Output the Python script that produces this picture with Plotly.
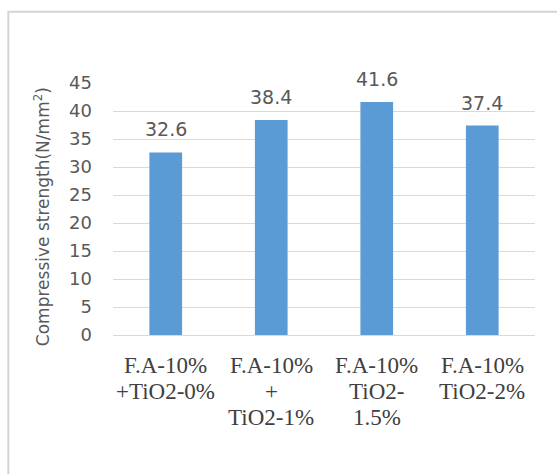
import plotly.graph_objects as go

# Compressive strength of fly-ash mixes with varying TiO2 content
categories = ["F.A-10%<br>+TiO2-0%", "F.A-10%<br>+<br>TiO2-1%",
              "F.A-10%<br>TiO2-<br>1.5%", "F.A-10%<br>TiO2-2%"]
strength = [32.6, 38.4, 41.6, 37.4]
y_ticks = [0, 5, 10, 15, 20, 25, 30, 35, 40, 45]
y_title = "Compressive strength(N/mm<sup>2</sup>)"

BAR = "#5B9BD5"
GRID = "#D9D9D9"
TICK_GRAY = "#595959"
LABEL_GRAY = "#404040"

fig = go.Figure()
fig.add_trace(go.Bar(
    x=list(range(len(categories))),
    y=strength,
    marker=dict(color=BAR, line=dict(width=0)),
    width=0.31,
    hoverinfo="skip",
))

# value labels above each bar
for i, v in enumerate(strength):
    fig.add_annotation(
        x=i, y=v, xref="x", yref="y", text=f"{v:.1f}",
        showarrow=False, yanchor="bottom", yshift=10,
        font=dict(family="DejaVu Sans", size=19, color=TICK_GRAY),
    )

# multi-line category labels under the axis
line_gap = 26
for i, cat in enumerate(categories):
    for j, line in enumerate(cat.split("<br>")):
        fig.add_annotation(
            x=i, y=0, xref="x", yref="y", text=line,
            showarrow=False, yanchor="middle",
            yshift=-(30 + j * line_gap),
            font=dict(family="Liberation Serif", size=23, color=LABEL_GRAY),
        )

# rotated y-axis title
fig.add_annotation(
    x=-0.168, y=0.468, xref="paper", yref="paper", text=y_title,
    showarrow=False, textangle=-90, xanchor="center", yanchor="middle",
    font=dict(family="DejaVu Sans", size=17, color=TICK_GRAY),
)

# outer chart frame
fig.add_shape(type="rect", xref="paper", yref="paper",
              x0=-0.248, y0=-1.0, x1=1.2, y1=1.283,
              line=dict(color="#D4D4D4", width=2), fillcolor="rgba(0,0,0,0)",
              layer="below")

fig.update_layout(
    width=557, height=474,
    margin=dict(l=113, r=22, t=83, b=139),
    paper_bgcolor="white", plot_bgcolor="white",
    showlegend=False,
    xaxis=dict(range=[-0.5, 3.5], showticklabels=False, showgrid=False,
               zeroline=False, showline=False, ticks=""),
    yaxis=dict(range=[0, 45], tickvals=y_ticks, showgrid=True,
               gridcolor=GRID, gridwidth=1, zeroline=True,
               zerolinecolor=GRID, zerolinewidth=1, showline=False,
               ticks="", ticklabelstandoff=20,
               tickfont=dict(family="DejaVu Sans", size=18, color=TICK_GRAY)),
)

fig.write_html("out.html")
